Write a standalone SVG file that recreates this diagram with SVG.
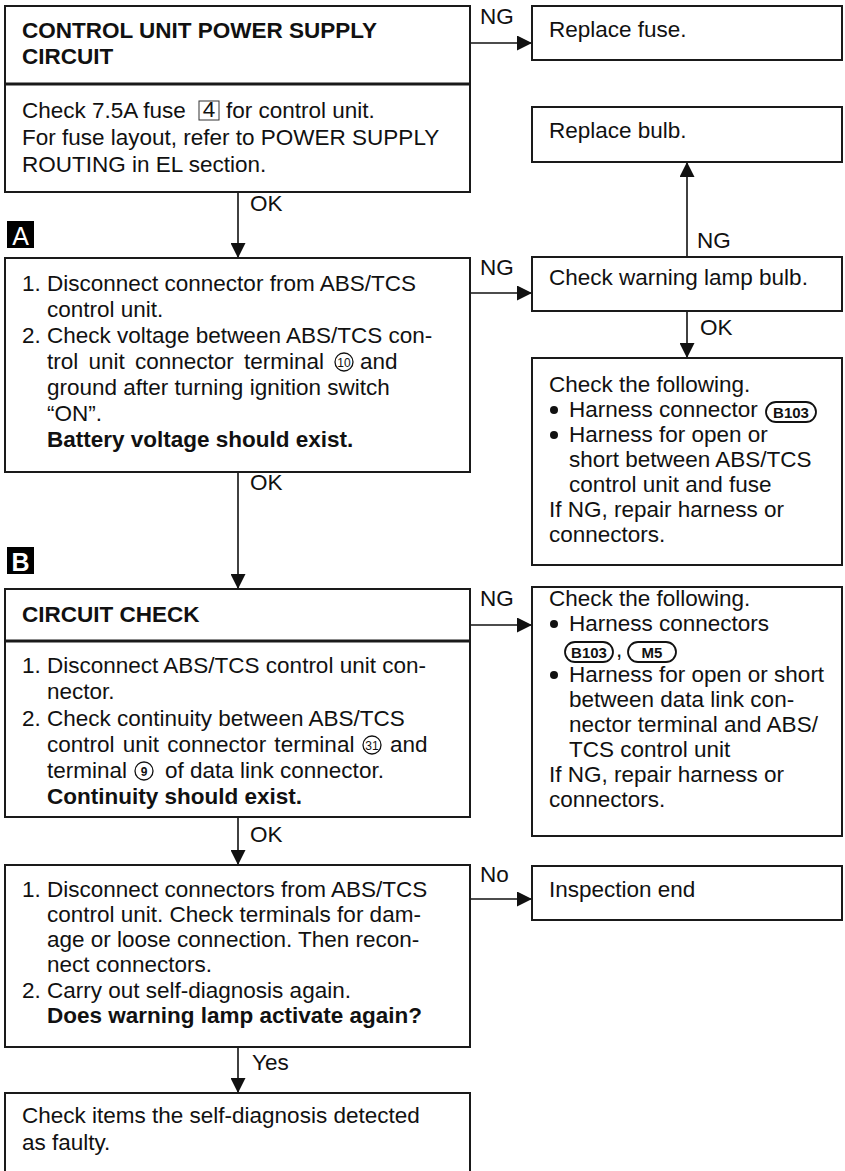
<svg xmlns="http://www.w3.org/2000/svg" width="845" height="1171" viewBox="0 0 845 1171">
<style>
.box{fill:#fff;stroke:#1a1a1a;stroke-width:2}
.div{stroke:#1a1a1a;stroke-width:3}
.t{font-family:"Liberation Sans",Arial,Helvetica,sans-serif;font-size:22.5px;fill:#111}
.b{font-weight:bold}
.conn path{stroke:#111;stroke-width:1.6;fill:none;marker-end:url(#ah)}
.bul{fill:#111}
.pill{fill:#fff;stroke:#111;stroke-width:1.8}
.pt{font-family:"Liberation Sans",Arial,sans-serif;font-size:15px;font-weight:bold;fill:#111;text-anchor:middle}
.circ{fill:none;stroke:#111;stroke-width:1.3}
.ct{font-family:"Liberation Sans",Arial,sans-serif;font-size:12px;fill:#111;text-anchor:middle}
.mk{fill:#000}
.mt{font-family:"Liberation Sans",Arial,sans-serif;font-size:25px;fill:#fff;text-anchor:middle}
</style>
<defs>
<marker id="ah" markerUnits="userSpaceOnUse" viewBox="0 0 15 15" markerWidth="15" markerHeight="15" refX="15" refY="7.5" orient="auto">
<path d="M0,0 L15,7.5 L0,15 z" fill="#111"/>
</marker>
</defs>

<g id="connectors" class="conn">
<path d="M470,43 H532"/>
<path d="M238,192 V258"/>
<path d="M470,293 H532"/>
<path d="M687,257 V162"/>
<path d="M687,311 V358"/>
<path d="M238,472 V589"/>
<path d="M470,625 H532"/>
<path d="M238,817 V865"/>
<path d="M470,899 H532"/>
<path d="M238,1047 V1093"/>
</g>
<g id="labels" class="t">
<text x="480" y="24">NG</text>
<text x="250" y="211">OK</text>
<text x="480" y="275">NG</text>
<text x="697" y="248">NG</text>
<text x="700" y="335">OK</text>
<text x="250" y="490">OK</text>
<text x="480" y="606">NG</text>
<text x="250" y="842">OK</text>
<text x="480" y="882">No</text>
<text x="252" y="1070">Yes</text>
</g>

<g id="markerA">
<rect class="mk" x="7" y="221" width="27" height="27"/>
<text class="mt" x="20.5" y="245">A</text>
</g>
<g id="markerB">
<rect class="mk" x="7" y="547" width="27" height="27"/>
<text class="mt b" x="20.5" y="571">B</text>
</g>

<g id="n_power">
<rect class="box" x="5" y="6" width="465" height="186"/>
<line class="div" x1="5" y1="84" x2="470" y2="84"/>
<text class="t b" x="22" y="38">CONTROL UNIT POWER SUPPLY</text>
<text class="t b" x="22" y="64">CIRCUIT</text>
<text class="t" x="22" y="118">Check 7.5A fuse</text>
<rect x="199" y="101" width="20" height="19" fill="none" stroke="#333" stroke-width="1"/>
<text class="t" x="209" y="117" text-anchor="middle">4</text>
<text class="t" x="226" y="118">for control unit.</text>
<text class="t" x="22" y="145">For fuse layout, refer to POWER SUPPLY</text>
<text class="t" x="22" y="172">ROUTING in EL section.</text>
</g>

<g id="n_replace_fuse">
<rect class="box" x="532" y="6" width="310" height="54"/>
<text class="t" x="549" y="37">Replace fuse.</text>
</g>

<g id="n_replace_bulb">
<rect class="box" x="532" y="107" width="310" height="55"/>
<text class="t" x="549" y="138">Replace bulb.</text>
</g>

<g id="n_voltage">
<rect class="box" x="5" y="258" width="465" height="214"/>
<text class="t" x="22" y="291">1. Disconnect connector from ABS/TCS</text>
<text class="t" x="47" y="317">control unit.</text>
<text class="t" x="22" y="343">2. Check voltage between ABS/TCS con-</text>
<text class="t" x="47" y="369" word-spacing="4">trol unit connector terminal</text>
<circle class="circ" cx="344" cy="362" r="9"/>
<text class="ct" x="344" y="366.5" font-size="11">10</text>
<text class="t" x="360" y="369">and</text>
<text class="t" x="47" y="395">ground after turning ignition switch</text>
<text class="t" x="47" y="421">“ON”.</text>
<text class="t b" x="47" y="447">Battery voltage should exist.</text>
</g>

<g id="n_lamp">
<rect class="box" x="532" y="257" width="310" height="54"/>
<text class="t" x="549" y="285">Check warning lamp bulb.</text>
</g>

<g id="n_check1">
<rect class="box" x="532" y="358" width="310" height="207"/>
<text class="t" x="549" y="392">Check the following.</text>
<circle class="bul" cx="554" cy="410" r="4"/>
<text class="t" x="569" y="417">Harness connector</text>
<rect class="pill" x="766" y="402" width="50" height="20" rx="10"/>
<text class="pt" x="791" y="418">B103</text>
<circle class="bul" cx="554" cy="435" r="4"/>
<text class="t" x="569" y="442">Harness for open or</text>
<text class="t" x="569" y="467">short between ABS/TCS</text>
<text class="t" x="569" y="492">control unit and fuse</text>
<text class="t" x="549" y="517">If NG, repair harness or</text>
<text class="t" x="549" y="542">connectors.</text>
</g>

<g id="n_circuit">
<rect class="box" x="5" y="589" width="465" height="228"/>
<line class="div" x1="5" y1="641" x2="470" y2="641"/>
<text class="t b" x="22" y="622">CIRCUIT CHECK</text>
<text class="t" x="22" y="673">1. Disconnect ABS/TCS control unit con-</text>
<text class="t" x="47" y="699">nector.</text>
<text class="t" x="22" y="726">2. Check continuity between ABS/TCS</text>
<text class="t" x="47" y="752" word-spacing="2">control unit connector terminal</text>
<circle class="circ" cx="372" cy="745" r="9"/>
<text class="ct" x="372" y="749.5" font-size="11">31</text>
<text class="t" x="390" y="752">and</text>
<text class="t" x="47" y="778">terminal</text>
<circle class="circ" cx="144" cy="771" r="9" stroke-width="1.8"/>
<text class="ct b" x="144" y="776" font-size="13">9</text>
<text class="t" x="165" y="778">of data link connector.</text>
<text class="t b" x="47" y="804">Continuity should exist.</text>
</g>

<g id="n_check2">
<rect class="box" x="532" y="587" width="310" height="249"/>
<text class="t" x="549" y="606">Check the following.</text>
<circle class="bul" cx="554" cy="624" r="4"/>
<text class="t" x="569" y="631">Harness connectors</text>
<rect class="pill" x="565" y="642" width="48" height="20" rx="10"/>
<text class="pt" x="589" y="658">B103</text>
<text class="t" x="616" y="657">,</text>
<rect class="pill" x="628" y="642" width="48" height="20" rx="10"/>
<text class="pt" x="652" y="658">M5</text>
<circle class="bul" cx="554" cy="675" r="4"/>
<text class="t" x="569" y="682">Harness for open or short</text>
<text class="t" x="569" y="707">between data link con-</text>
<text class="t" x="569" y="732">nector terminal and ABS/</text>
<text class="t" x="569" y="757">TCS control unit</text>
<text class="t" x="549" y="782">If NG, repair harness or</text>
<text class="t" x="549" y="807">connectors.</text>
</g>

<g id="n_decision">
<rect class="box" x="5" y="865" width="465" height="182"/>
<text class="t" x="22" y="897">1. Disconnect connectors from ABS/TCS</text>
<text class="t" x="47" y="922">control unit. Check terminals for dam-</text>
<text class="t" x="47" y="947">age or loose connection. Then recon-</text>
<text class="t" x="47" y="972">nect connectors.</text>
<text class="t" x="22" y="998">2. Carry out self-diagnosis again.</text>
<text class="t b" x="47" y="1023">Does warning lamp activate again?</text>
</g>

<g id="n_end">
<rect class="box" x="532" y="866" width="310" height="54"/>
<text class="t" x="549" y="897">Inspection end</text>
</g>

<g id="n_faulty">
<rect class="box" x="5" y="1093" width="465" height="90"/>
<text class="t" x="22" y="1123">Check items the self-diagnosis detected</text>
<text class="t" x="22" y="1150">as faulty.</text>
</g>
</svg>
